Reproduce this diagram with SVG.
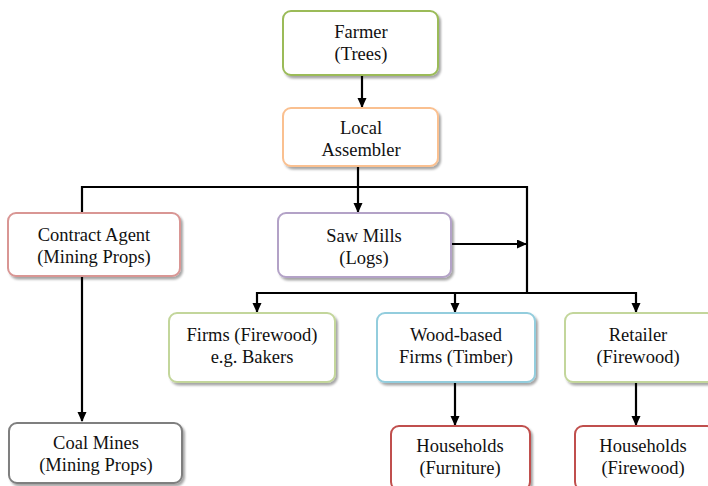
<svg xmlns="http://www.w3.org/2000/svg" width="708" height="486" viewBox="0 0 708 486">
<defs>
<marker id="ah" markerWidth="10" markerHeight="10" refX="9" refY="4.5" orient="auto" markerUnits="userSpaceOnUse">
<path d="M0,0 L10,4.5 L0,9 Z" fill="#000"/>
</marker>
<filter id="sh" x="-10%" y="-10%" width="130%" height="140%">
<feDropShadow dx="2" dy="2.5" stdDeviation="1.2" flood-color="#000" flood-opacity="0.35"/>
</filter>
</defs>
<style>
.box{fill:#fff;stroke-width:2;filter:url(#sh)}
.t{font-family:'Liberation Serif','Times New Roman',serif;font-size:18.5px;fill:#111;text-anchor:middle}
.c{fill:none;stroke:#000;stroke-width:2.2}
</style>
<rect width="708" height="486" fill="#fff"/>
<g id="connectors">
<line class="c" x1="362" y1="75" x2="362" y2="107" marker-end="url(#ah)"/>
<polyline class="c" points="358,166 358,187"/>
<polyline class="c" points="82,212 82,187 527,187 527,293"/>
<line class="c" x1="358" y1="187" x2="358" y2="212" marker-end="url(#ah)"/>
<line class="c" x1="452" y1="244" x2="526" y2="244" marker-end="url(#ah)"/>
<polyline class="c" points="257,293 636,293 636,312" marker-end="url(#ah)"/>
<line class="c" x1="455" y1="293" x2="455" y2="312" marker-end="url(#ah)"/>
<line class="c" x1="257" y1="292" x2="257" y2="312" marker-end="url(#ah)"/>
<line class="c" x1="82" y1="277" x2="82" y2="421" marker-end="url(#ah)"/>
<line class="c" x1="455" y1="383" x2="455" y2="425" marker-end="url(#ah)"/>
<line class="c" x1="636" y1="383" x2="636" y2="425" marker-end="url(#ah)"/>
</g>
<g class="t" font-family="Liberation Serif, Times New Roman, serif" font-size="18.5" text-anchor="middle">
<g id="farmer">
<rect class="box" x="283" y="11" width="155" height="64" rx="8" stroke="#9bbb59"/>
<text x="361" y="38">Farmer</text>
<text x="361" y="60">(Trees)</text>
</g>
<g id="assembler">
<rect class="box" x="283" y="108" width="155" height="58" rx="8" stroke="#fac090"/>
<text x="361" y="134">Local</text>
<text x="361" y="156">Assembler</text>
</g>
<g id="contract-agent">
<rect class="box" x="8" y="213" width="172" height="63" rx="8" stroke="#d99694"/>
<text x="94" y="241">Contract Agent</text>
<text x="94" y="263">(Mining Props)</text>
</g>
<g id="saw-mills">
<rect class="box" x="278" y="213" width="173" height="64" rx="8" stroke="#b3a2c7"/>
<text x="364" y="242">Saw Mills</text>
<text x="364" y="264">(Logs)</text>
</g>
<g id="firms-firewood">
<rect class="box" x="169" y="313" width="166" height="69" rx="8" stroke="#c3d69b"/>
<text x="252" y="341">Firms (Firewood)</text>
<text x="252" y="363">e.g. Bakers</text>
</g>
<g id="wood-based">
<rect class="box" x="377" y="313" width="158" height="69" rx="8" stroke="#93cddd"/>
<text x="456" y="341">Wood-based</text>
<text x="456" y="363">Firms (Timber)</text>
</g>
<g id="retailer">
<rect class="box" x="565" y="313" width="150" height="69" rx="8" stroke="#c3d69b"/>
<text x="638" y="341">Retailer</text>
<text x="638" y="363">(Firewood)</text>
</g>
<g id="coal-mines">
<rect class="box" x="9" y="423" width="173" height="60" rx="8" stroke="#7f7f7f"/>
<text x="96" y="449">Coal Mines</text>
<text x="96" y="471">(Mining Props)</text>
</g>
<g id="households-furniture">
<rect class="box" x="391" y="426" width="139" height="64" rx="8" stroke="#c0504d"/>
<text x="460" y="452">Households</text>
<text x="460" y="474">(Furniture)</text>
</g>
<g id="households-firewood">
<rect class="box" x="575" y="426" width="140" height="64" rx="8" stroke="#c0504d"/>
<text x="643" y="452">Households</text>
<text x="643" y="474">(Firewood)</text>
</g>
</g>
</svg>
